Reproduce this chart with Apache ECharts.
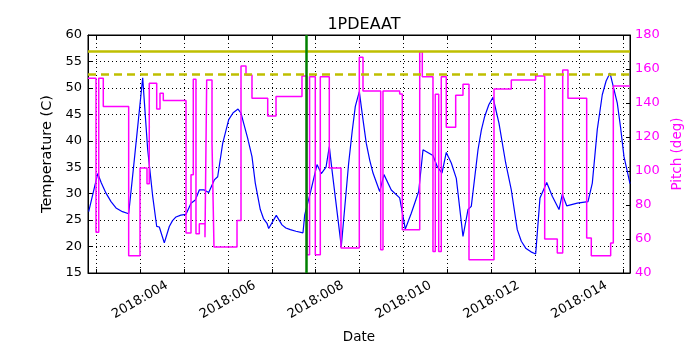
<!DOCTYPE html>
<html>
<head>
<meta charset="utf-8">
<script src="https://cdn.jsdelivr.net/npm/echarts@6/dist/echarts.min.js"></script>
<style>
  html, body { margin: 0; padding: 0; background: #fff; }
  #chart { width: 700px; height: 350px; }
</style>
</head>
<body>
<div id="chart"></div>
<script>
// x values are day-of-year 2018
const dayTicks = [3, 4, 5, 6, 7, 8, 9, 10, 11, 12, 13, 14, 15];
const labelDays = [4, 6, 8, 10, 12, 14];
const dayMin = 2.816;
const dayMax = 15.154;

// temperature (C)
const tempDays = [
  2.832, 3.037, 3.12, 3.226, 3.34, 3.453, 3.6, 3.742, 3.870, 4.061,
  4.175, 4.289, 4.380, 4.439, 4.553, 4.667, 4.74, 4.819, 4.93, 5.047,
  5.161, 5.259, 5.350, 5.463, 5.564, 5.691, 5.768, 5.882, 6.019, 6.12,
  6.231, 6.30, 6.360, 6.45, 6.549, 6.624, 6.738, 6.81, 6.891, 6.929,
  7.102, 7.232, 7.32, 7.421, 7.55, 7.710, 7.749, 7.876, 8.029, 8.127,
  8.234, 8.309, 8.370, 8.582, 8.750, 8.83, 8.901, 8.992, 9.076, 9.151,
  9.23, 9.304, 9.456, 9.554, 9.720, 9.911, 10.039, 10.175, 10.344, 10.442,
  10.669, 10.767, 10.874, 10.972, 11.086, 11.200, 11.352, 11.466, 11.541, 11.694,
  11.77, 11.846, 11.94, 12.035, 12.172, 12.324, 12.452, 12.588, 12.68, 12.780,
  12.9, 13.007, 13.105, 13.258, 13.385, 13.538, 13.613, 13.713, 13.954, 14.198,
  14.296, 14.409, 14.523, 14.61, 14.699, 14.865, 14.94, 15.017, 15.154
];
const tempValues = [
  26.6, 33.8, 32.0, 30.1, 28.5, 27.3, 26.6, 26.2, 36.4, 51.9,
  38.3, 29.5, 23.8, 23.7, 20.7, 23.8, 24.9, 25.6, 25.95, 26.1,
  28.2, 28.8, 30.7, 30.7, 30.2, 32.6, 33.2, 39.5, 44.0, 45.3,
  46.0, 45.2, 43.3, 40.5, 37.0, 32.0, 27.0, 25.3, 24.4, 23.4,
  25.9, 24.1, 23.5, 23.2, 22.9, 22.6, 26.0, 30.1, 35.5, 33.8,
  35.0, 38.9, 34.5, 20.0, 35.8, 41.8, 46.5, 49.3, 44.0, 39.5,
  36.3, 33.9, 30.4, 33.6, 30.7, 29.2, 23.3, 26.3, 30.4, 38.3,
  37.2, 35.1, 33.9, 37.8, 35.8, 32.9, 21.9, 27.0, 27.6, 38.3,
  42.0, 44.6, 46.8, 48.2, 43.3, 35.8, 30.7, 23.2, 21.0, 19.7,
  19.0, 18.6, 29.2, 32.1, 29.5, 27.0, 29.9, 27.7, 28.2, 28.5,
  32.0, 42.1, 48.7, 51.3, 52.8, 47.1, 42.5, 37.0, 31.9
];

// pitch (deg), value holds until the next day entry
const pitchDays = [
  2.816, 2.998, 3.060, 3.164, 3.742, 4.000, 4.159, 4.211, 4.380, 4.455,
  4.530, 5.047, 5.161, 5.213, 5.274, 5.350, 5.479, 5.518, 5.639, 5.684,
  6.208, 6.299, 6.413, 6.549, 6.907, 7.096, 7.687, 7.80, 7.86, 7.990,
  8.104, 8.309, 8.575, 8.992, 9.076, 9.479, 9.531, 9.911, 9.971, 10.367,
  10.426, 10.669, 10.722, 10.799, 10.858, 10.972, 11.186, 11.352, 11.489, 12.058,
  12.452, 13.007, 13.212, 13.499, 13.622, 13.742, 14.168, 14.273, 14.714, 14.774,
  15.154
];
const pitchValues = [
  154.6, 63.9, 154.6, 137.9, 50.2, 101.7, 92.5, 151.6, 136.5, 145.7,
  141.4, 63.5, 97.8, 154.0, 63.1, 69.0, 61.1, 153.5, 116.4, 55.3,
  70.9, 161.8, 156.5, 142.8, 132.4, 143.8, 155.9, 50.8, 155.5, 50.8,
  155.5, 101.7, 54.7, 166.9, 147.1, 53.7, 147.1, 145.3, 65.4, 170.2,
  155.5, 52.7, 145.1, 52.7, 155.5, 125.8, 144.6, 151.0, 47.8, 148.3,
  153.6, 155.9, 60.0, 51.7, 159.4, 142.8, 60.6, 50.2, 57.6, 150.0,
  150.0
];

const limitTemps = [57, 52.5];
const markerDay = 7.785;

const font = "DejaVu Sans";
const tempData = tempDays.map((d, i) => [d, tempValues[i]]);
const pitchData = pitchDays.map((d, i) => [d, pitchValues[i]]);
const dayLabel = (v) => "2018:" + String(Math.round(v)).padStart(3, "0");

const chart = echarts.init(document.getElementById("chart"));

const option = {
  animation: false,
  backgroundColor: "#fff",
  title: {
    text: "1PDEAAT",
    left: 359,
    top: 12,
    textAlign: "center",
    textStyle: { fontFamily: font, fontSize: 16, fontWeight: "normal", color: "#000" },
  },
  grid: {
    left: 88, right: 70, top: 35, bottom: 77,
    show: true, borderColor: "#000", borderWidth: 1,
  },
  xAxis: [
    {
      type: "value",
      min: dayMin,
      max: dayMax,
      name: "Date",
      nameLocation: "middle",
      nameGap: 57,
      nameTextStyle: { fontFamily: font, fontSize: 13.5, color: "#000" },
      axisLine: { lineStyle: { color: "#000", width: 1 } },
      axisTick: { inside: true, length: 4, customValues: dayTicks, lineStyle: { color: "#000" } },
      axisLabel: {
        customValues: labelDays,
        formatter: dayLabel,
        rotate: 30,
        align: "center",
        verticalAlign: "middle",
        margin: 27,
        fontFamily: font,
        fontSize: 13,
        color: "#000",
      },
      splitLine: { show: true, lineStyle: { color: "#000", type: [1, 3], width: 1 } },
    },
    {
      type: "value",
      position: "top",
      min: dayMin,
      max: dayMax,
      axisLine: { lineStyle: { color: "#000" } },
      axisTick: { inside: true, length: 4, customValues: dayTicks, lineStyle: { color: "#000" } },
      axisLabel: { show: false },
      splitLine: { show: false },
    },
  ],
  yAxis: [
    {
      type: "value",
      min: 15,
      max: 60,
      interval: 5,
      name: "Temperature (C)",
      nameLocation: "middle",
      nameGap: 31,
      nameTextStyle: { fontFamily: font, fontSize: 14.5, color: "#000" },
      axisLine: { show: true, lineStyle: { color: "#000" } },
      axisTick: { show: true, inside: true, length: 4, lineStyle: { color: "#000" } },
      axisLabel: { margin: 6, fontFamily: font, fontSize: 13, color: "#000" },
      splitLine: { show: true, lineStyle: { color: "#000", type: [1, 3], width: 1 } },
    },
    {
      type: "value",
      position: "right",
      min: 40,
      max: 180,
      interval: 20,
      name: "Pitch (deg)",
      nameLocation: "middle",
      nameGap: 34,
      nameTextStyle: { fontFamily: font, fontSize: 13.5, color: "#ff00ff" },
      axisLine: { show: true, lineStyle: { color: "#000" } },
      axisTick: { show: true, inside: true, length: 4, lineStyle: { color: "#000" } },
      axisLabel: { margin: 5, fontFamily: font, fontSize: 13, color: "#ff00ff" },
      splitLine: { show: false },
    },
  ],
  series: [
    {
      name: "Temperature",
      type: "line",
      xAxisIndex: 0,
      yAxisIndex: 0,
      data: tempData,
      showSymbol: false,
      lineStyle: { color: "#0000ff", width: 1.2 },
      markLine: {
        silent: true,
        symbol: "none",
        label: { show: false },
        data: [
          { yAxis: limitTemps[0], lineStyle: { color: "#bfbf00", width: 2.5, type: "solid" } },
          { yAxis: limitTemps[1], lineStyle: { color: "#bfbf00", width: 2.5, type: [8, 5] } },
          { xAxis: markerDay, lineStyle: { color: "#008000", width: 2.5, type: "solid" } },
        ],
      },
      z: 2,
    },
    {
      name: "Pitch",
      type: "line",
      xAxisIndex: 0,
      yAxisIndex: 1,
      step: "end",
      data: pitchData,
      showSymbol: false,
      lineStyle: { color: "#ff00ff", width: 1.5 },
      z: 3,
    },
  ],
};

chart.setOption(option);
window.addEventListener("resize", chart.resize);
</script>
</body>
</html>
